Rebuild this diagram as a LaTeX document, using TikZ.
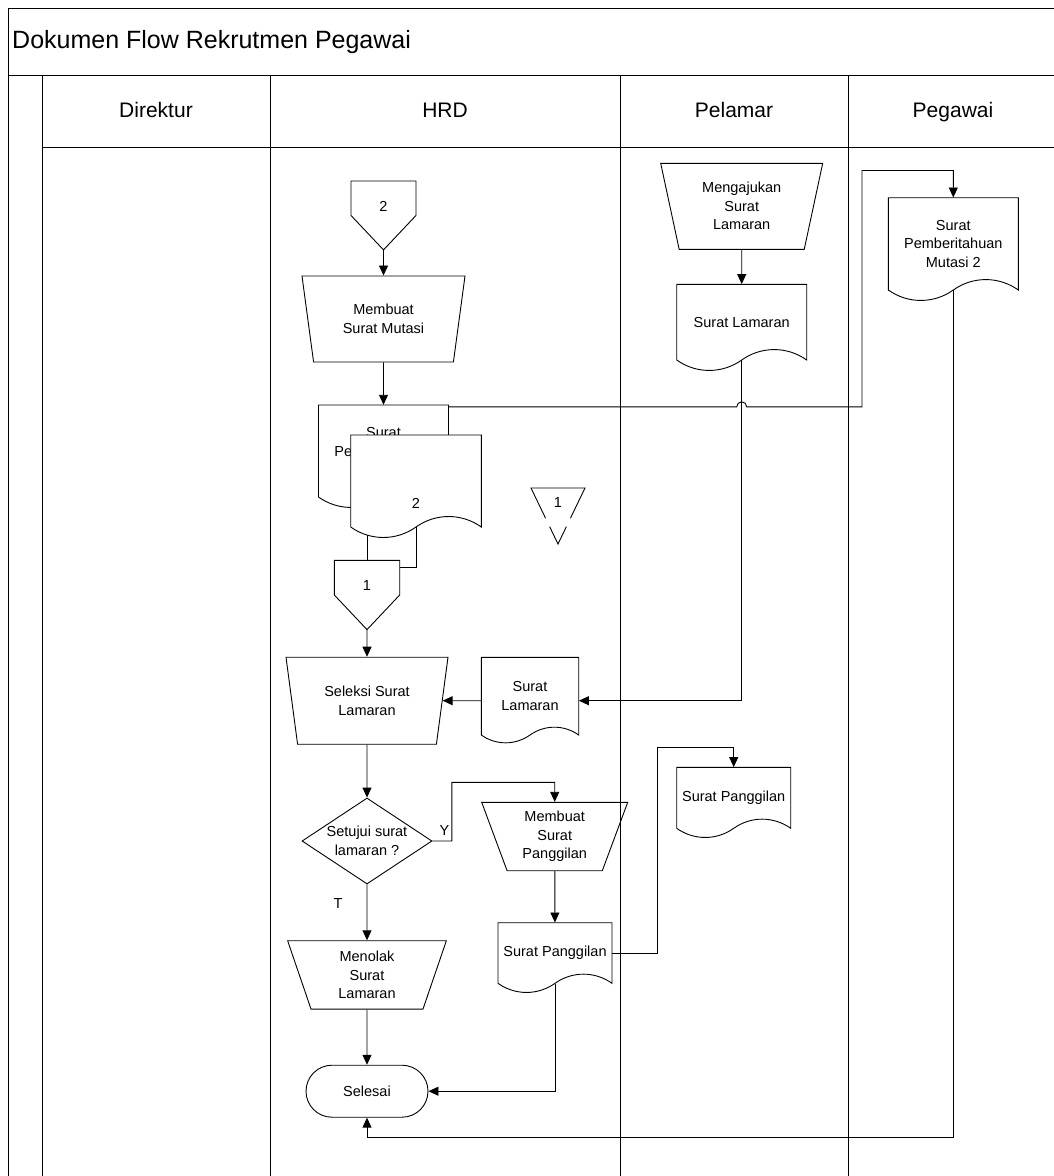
\documentclass[tikz,border=0pt]{standalone}
\usepackage{fontspec}
\setmainfont{Liberation Sans}
\usetikzlibrary{arrows.meta, calc, shapes.geometric}

\newcommand{\nodefont}{\fontsize{14.5}{18.5}\selectfont}

\tikzset{
  lane/.style={line width=1pt},
  docline/.style={line width=0.9pt},
  link/.style={line width=0.9pt},
  arr/.style={line width=0.9pt, -{Triangle[length=10pt,width=9pt]}},
  doctext/.style={inner sep=0pt, align=center, font=\nodefont},
  lanehead/.style={font=\fontsize{21}{25}\selectfont, text height=15pt, text depth=4pt},
  manual/.style={trapezium, trapezium stretches body, shape border rotate=180, draw, line width=0.9pt, inner sep=1pt, align=center, font=\nodefont},
  decision/.style={diamond, draw, line width=0.9pt, aspect=1.5, minimum width=130, minimum height=86, inner sep=0pt, align=center, font=\nodefont},
  terminal/.style={rectangle, rounded corners=26pt, draw, line width=0.9pt, minimum width=122, minimum height=52, font=\nodefont},
  lbl/.style={inner sep=0pt, font=\nodefont},
}

% document: [path options]{name}{centre x}{top}{width}{side height}{text}
\newcommand{\docu}[7][]{%
  \draw[docline,#1] ({#3-#5/2},#4) -- ({#3+#5/2},#4) -- ({#3+#5/2},{#4+#6})
    .. controls ({#3+0.35*#5},{#4+#6-0.107*#5}) and ({#3+0.15*#5},{#4+#6-0.107*#5}) .. (#3,{#4+#6})
    .. controls ({#3-0.15*#5},{#4+#6+0.107*#5}) and ({#3-0.35*#5},{#4+#6+0.107*#5}) .. ({#3-#5/2},{#4+#6}) -- cycle;
  \node[doctext, minimum width=#5, minimum height=#6] (#2) at (#3,{#4+#6/2}) {#7};
}
% off-page connector: {name}{centre x}{top}{width}{text}
\newcommand{\offpage}[5]{%
  \draw[docline] ({#2-#4/2},#3) -- ({#2+#4/2},#3) -- ({#2+#4/2},{#3+0.53*#4})
    -- (#2,{#3+1.06*#4}) -- ({#2-#4/2},{#3+0.53*#4}) -- cycle;
  \node[doctext, minimum width=#4, minimum height={1.06*#4}] (#1) at (#2,{#3+0.53*#4}) {\raisebox{4pt}[0pt][0pt]{#5}};
}

\begin{document}
\begin{tikzpicture}[x=1pt, y=-1pt]
\useasboundingbox (0,0) rectangle (1054,1176);
\clip (0,0) rectangle (1054,1176);

% frame and lanes
\draw[lane] (1070,8) -- (8,8) -- (8,1190);
\draw[lane] (8,75) -- (1070,75);
\draw[lane] (42,147) -- (1070,147);
\foreach \x in {42,270,620,848}
  \draw[lane] (\x,75) -- (\x,1190);
\node[font=\fontsize{25}{30}\selectfont, anchor=west, inner sep=0pt] (title) at (12,42) {Dokumen Flow Rekrutmen Pegawai};
\foreach \x/\t in {156/Direktur, 445/HRD, 734/Pelamar, 953/Pegawai}
  \node[lanehead] (head-\t) at (\x,112) {\t};

% HRD
\offpage{conb}{383.5}{181}{65}{2}
\node[manual, trapezium angle=69.6, minimum width=163, minimum height=86] (mut) at (383.5,319) {Membuat\\Surat Mutasi};
\docu{mutasi1}{383.5}{405}{130}{92}{Surat\\Pemberitahuan\\Mutasi 1}
\offpage{cona}{367}{560.3}{65.4}{1}
\draw[link] (mutasi1.south -| cona.north) -- (cona.north);
\docu[fill=white]{doctwo}{416}{435}{130.6}{92}{\raisebox{-27pt}[0pt][0pt]{2}}
\draw[link] (doctwo.south) |- ([yshift=-7.5pt]cona.north east);

\draw[docline] ($(558,544)!0.46!(531,488)$) -- (531,488) -- (585,488) -- ($(558,544)!0.46!(585,488)$);
\draw[docline] ($(558,544)!0.31!(531,488)$) -- (558,544) -- ($(558,544)!0.31!(585,488)$);
\node[doctext] (contri) at (558,503) {1};

\node[manual, trapezium angle=69.6, minimum width=162, minimum height=87] (sel) at (367,700.7) {Seleksi Surat\\Lamaran};
\docu{slh}{530}{657.3}{97.4}{77.7}{Surat\\Lamaran}
\node[decision] (dia) at (367,841) {Setujui surat\\lamaran ?};
\node[manual, trapezium angle=64.2, minimum width=146, minimum height=68.4] (msp) at (554.7,836.5) {Membuat\\Surat\\Panggilan};
\node[manual, trapezium angle=64.8, minimum width=158.7, minimum height=68.3] (men) at (367,974.9) {Menolak\\Surat\\Lamaran};
\docu{sph}{555}{922.7}{114}{60.6}{Surat Panggilan}
\node[terminal] (selesai) at (367,1091.2) {Selesai};

% Pelamar
\node[manual, trapezium angle=69.6, minimum width=162, minimum height=86] (mgl) at (741.7,206.3) {Mengajukan\\Surat\\Lamaran};
\docu{slp}{741.7}{284.3}{130}{75.7}{Surat Lamaran}
\docu{spp}{733.7}{767.3}{114}{61}{Surat Panggilan}

% Pegawai
\docu{pgw}{953.3}{197.7}{130}{92.3}{Surat\\Pemberitahuan\\Mutasi 2}

% connectors
\draw[arr] (conb) -- (mut);
\draw[arr] (mut) -- (mutasi1);
\coordinate (mutout) at ([yshift=-2pt]mutasi1.north east);
\draw[arr] (mutout) -- ($(mutout -| slp.south)+(-5,0)$) arc[start angle=180, end angle=360, radius=5]
  -- ($(mutout)+(413.3,0)$) |- ([yshift=27pt]pgw.north) -- (pgw.north);
\draw[arr] (cona) -- (sel);
\draw[arr] (mgl) -- (slp);
\draw[arr] (slp.south) |- (slh.east |- sel.center);
\draw[arr] (slh.west |- sel.center) -- (sel);
\draw[arr] (sel) -- (dia);
\draw[arr] (dia.east) -- ++(19.4,0) |- ([yshift=54.2pt]msp.center) -- (msp);
\node[lbl] (ylab) at ([xshift=12pt,yshift=10pt]dia.east) {Y};
\draw[arr] (dia) -- (men);
\node[lbl] (tlab) at ([xshift=-29pt,yshift=-19pt]dia.south) {T};
\draw[arr] (msp) -- (sph);
\draw[arr] (sph.east) -- ++(45.3,0) |- ([yshift=20pt]spp.north) -- (spp.north);
\draw[arr] (sph.south) |- (selesai.east);
\draw[arr] (men) -- (selesai);
\draw[arr] (pgw.south) |- ([yshift=-20pt]selesai.south) -- (selesai.south);
\end{tikzpicture}
\end{document}
